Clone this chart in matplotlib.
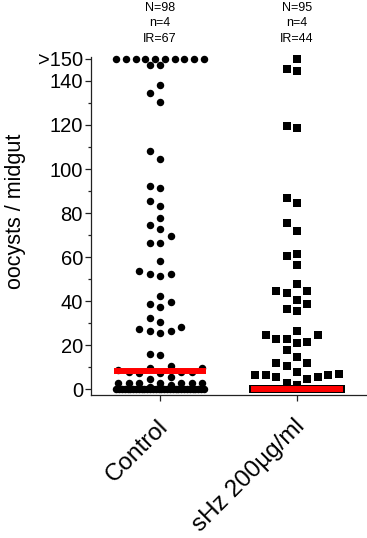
import numpy as np
import matplotlib
matplotlib.use("Agg")
import matplotlib.pyplot as plt
from matplotlib.transforms import ScaledTranslation

plt.rcParams['font.family'] = ['Liberation Sans', 'DejaVu Sans']

# ---------------- data ----------------
groups = ["Control", "sHz 200µg/ml"]

control = ([0] * 32 + [1, 1, 2] + [2.9] * 7 + [4.5, 5.3] + [7.3, 7.6, 7.9, 7.6, 7.3]
           + [8.8, 9.7, 9.7, 10.6, 15.5, 15.9]
           + [25.5, 26.5, 26.5, 27.4, 28.3, 30.6, 32.4]
           + [37.1, 38.6, 39.4, 42.4]
           + [51.5, 52.4, 52.4, 53.5, 58.3]
           + [66.4, 66.4, 69.4, 72.6, 74.4, 77.6, 83.3, 85.6, 91.4, 92.4]
           + [104.5, 108.3, 130.3, 134.5, 138.3, 147.4, 147.4]
           + [150] * 10)

shz = ([0] * 53 + [2, 2.7, 4.5, 5.3, 5.3, 6.6, 6.6, 6.6, 6.8, 7.6]
       + [10.6, 11.7, 11.7, 14.4, 17.6, 20.8, 21.5, 22.7, 22.7, 24.7, 24.7, 26.2]
       + [35.5, 36.5, 38.8, 40.6, 43.5, 44.4, 44.4, 47.6]
       + [56.5, 60.6, 61.5, 71.7, 75.6, 84.5, 86.7]
       + [118.6, 119.5, 144.5, 145.5, 150])

series = [control, shz]
markers = ["o", "s"]
annotations = [["N=98", "n=4", "IR=67"], ["N=95", "n=4", "IR=44"]]

ytick_values = [0, 20, 40, 60, 80, 100, 120, 140, 150]
ytick_labels = ["0", "20", "40", "60", "80", "100", "120", "140", ">150"]
yminor_values = [10, 30, 50, 70, 90, 110, 130]


# ---------------- layout helper (Prism-like scatter) ----------------
def swarm_offsets(values, slot, h, dense_min, spread):
    v = np.asarray(values, float)
    order = np.argsort(v, kind="stable")
    offsets = np.zeros(len(v))
    uniq, counts = np.unique(v, return_counts=True)
    dense = set(uniq[counts >= dense_min].tolist())
    slots_order = [0, -1, 1, -2, 2, -3, 3, -4, 4]
    placed = {k: [] for k in slots_order}
    for val in dense:
        idx = np.where(v == val)[0]
        offsets[idx] = np.linspace(-spread, spread, len(idx))
    for i in order:
        if v[i] in dense:
            continue
        best = None
        for k in slots_order:
            if all(abs(v[i] - p) >= h for p in placed[k]):
                best = k
                break
        if best is None:
            best = max(slots_order,
                       key=lambda k: min(abs(v[i] - p) for p in placed[k]))
        placed[best].append(v[i])
        offsets[i] = best * slot
    return offsets


W, H = 367, 538
fig = plt.figure(figsize=(W / 100, H / 100), dpi=100)
ax_left, ax_right, ax_top, ax_bot = 91, 367, 57, 395
ax = fig.add_axes([ax_left / W, 1 - ax_bot / H, (ax_right - ax_left) / W, (ax_bot - ax_top) / H])

ax.set_xlim(-0.504, 1.511)
ax.set_ylim(-2.7, 150.9)

for i, (vals, mk) in enumerate(zip(series, markers)):
    offs = swarm_offsets(vals, slot=0.0766, h=5.0, dense_min=10, spread=0.32)
    size = 29 if mk == "o" else 26
    ax.scatter(i + offs, vals, marker=mk, s=size, color="black", linewidths=0, zorder=3,
               clip_on=False)
    med = np.median(vals)
    ax.plot([i - 0.333, i + 0.333], [med, med], color="#ff0000", lw=4.3,
            solid_capstyle="butt", zorder=4)

for side in ["top", "right"]:
    ax.spines[side].set_visible(False)
for side in ["left", "bottom"]:
    ax.spines[side].set_linewidth(0.9)
    ax.spines[side].set_color("#222222")

ax.set_yticks(ytick_values, ytick_labels)
ax.set_yticks(yminor_values, minor=True)
ax.tick_params(axis="y", which="major", direction="out", length=4.3, width=0.9,
               labelsize=14.5, pad=1.5, color="#222222")
ax.tick_params(axis="y", which="minor", direction="out", length=2.2, width=0.9,
               color="#222222")

ax.set_xticks(range(len(groups)), groups)
ax.tick_params(axis="x", which="major", direction="out", length=4.3, width=0.9,
               labelsize=17.5, pad=10.5, color="#222222")
shift = ScaledTranslation(-3 / 100, 0, fig.dpi_scale_trans)
for lab in ax.get_xticklabels():
    lab.set_rotation(45)
    lab.set_ha("right")
    lab.set_va("top")
    lab.set_rotation_mode("anchor")
    lab.set_transform(lab.get_transform() + shift)

fig.text(16 / W, 1 - 211 / H, "oocysts / midgut", rotation=90, ha="center", va="center",
         fontsize=15.5)

baselines = [10.7, 26.2, 41.7]
for i, lines in enumerate(annotations):
    for txt, b in zip(lines, baselines):
        ax.annotate(txt, xy=(i, 1 - b / H), xycoords=("data", "figure fraction"),
                    ha="center", va="baseline", fontsize=9, annotation_clip=False)

fig.savefig("out.png", dpi=100)
